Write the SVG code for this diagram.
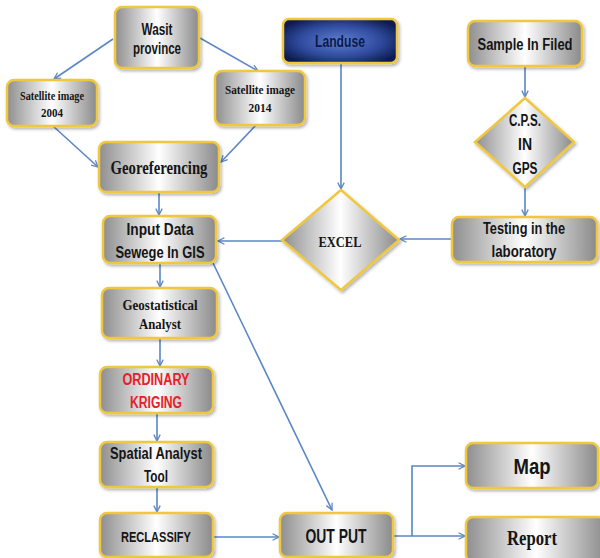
<svg xmlns="http://www.w3.org/2000/svg" width="600" height="558" viewBox="0 0 600 558">
<defs>
<linearGradient id="g" x1="0" y1="0" x2="1" y2="0">
<stop offset="0" stop-color="#8e8e8e"/>
<stop offset="0.5" stop-color="#ffffff"/>
<stop offset="1" stop-color="#8a8a8a"/>
</linearGradient>
<radialGradient id="b" cx="0.5" cy="0.5" r="0.6">
<stop offset="0" stop-color="#5f7fd0"/>
<stop offset="0.6" stop-color="#2f4a9c"/>
<stop offset="1" stop-color="#0c1a4e"/>
</radialGradient>
<filter id="sh" x="-10%" y="-10%" width="125%" height="130%">
<feDropShadow dx="1.5" dy="2" stdDeviation="1.5" flood-color="#000" flood-opacity="0.3"/>
</filter>
<marker id="ar" viewBox="0 0 10 10" refX="9" refY="5" markerWidth="8" markerHeight="8" orient="auto" markerUnits="userSpaceOnUse">
<path d="M1,1 L9,5 L1,9" fill="none" stroke="#5b86c5" stroke-width="1.6"/>
</marker>
</defs>
<style>
.box{fill:url(#g);stroke:#f0c840;stroke-width:2.5;filter:url(#sh)}
.blue{fill:url(#b);stroke:#f0c840;stroke-width:2.5;filter:url(#sh)}
.c{fill:none;stroke:#5b86c5;stroke-width:1.6;marker-end:url(#ar)}
.s{font-family:"Liberation Sans",Arial,sans-serif;font-weight:bold;fill:#151515;text-anchor:middle}
.t{font-family:"Liberation Serif","Times New Roman",serif;font-weight:bold;fill:#151515;text-anchor:middle}
</style>
<g id="connectors">
<path class="c" d="M113,39 L54,79"/>
<path class="c" d="M200,38 L258,71"/>
<path class="c" d="M53,126 L98,167"/>
<path class="c" d="M256,125 L221,162"/>
<path class="c" d="M159,192 L159,215"/>
<path class="c" d="M341,63 L341,189"/>
<path class="c" d="M525,66 L525,97"/>
<path class="c" d="M525,187 L525,216"/>
<path class="c" d="M452,239 L400,239"/>
<path class="c" d="M282,241 L218,241"/>
<path class="c" d="M160,263 L160,287"/>
<path class="c" d="M160,338 L160,366"/>
<path class="c" d="M157,413 L157,441"/>
<path class="c" d="M157,487 L157,512"/>
<path class="c" d="M213,263 L332,510"/>
<path class="c" d="M213,537 L279,537"/>
<path class="c" d="M393,536 L465,536"/>
<path class="c" d="M412,536 L412,466 L465,466"/>
</g>
<g id="wasit"><rect class="box" x="115" y="7" width="84" height="61" rx="7"/>
<text class="s" x="157" y="35" font-size="16" textLength="31" lengthAdjust="spacingAndGlyphs">Wasit</text>
<text class="s" x="157" y="54" font-size="16" textLength="48" lengthAdjust="spacingAndGlyphs">province</text></g>
<g id="sat2004"><rect class="box" x="7" y="80" width="90" height="46" rx="7"/>
<text class="t" x="52" y="100" font-size="12.5" textLength="64" lengthAdjust="spacingAndGlyphs">Satellite image</text>
<text class="t" x="52" y="117" font-size="12.5" textLength="22" lengthAdjust="spacingAndGlyphs">2004</text></g>
<g id="sat2014"><rect class="box" x="215" y="71" width="90" height="54" rx="7"/>
<text class="t" x="260" y="94" font-size="13" textLength="70" lengthAdjust="spacingAndGlyphs">Satellite image</text>
<text class="t" x="260" y="112" font-size="13" textLength="23" lengthAdjust="spacingAndGlyphs">2014</text></g>
<g id="georef"><rect class="box" x="99" y="142" width="120" height="50" rx="7"/>
<text class="t" x="159" y="174" font-size="19" textLength="97" lengthAdjust="spacingAndGlyphs">Georeferencing</text></g>
<g id="landuse"><rect class="blue" x="283" y="19" width="114" height="44" rx="6"/>
<text class="s" x="340" y="47" font-size="16" textLength="50" lengthAdjust="spacingAndGlyphs" style="fill:#0b1a4a">Landuse</text></g>
<g id="sample"><rect class="box" x="468" y="21" width="114" height="45" rx="7"/>
<text class="s" x="525" y="50" font-size="16" textLength="95" lengthAdjust="spacingAndGlyphs">Sample In Filed</text></g>
<g id="cps"><polygon class="box" points="525,98 574,142 525,187 475,142"/>
<text class="s" x="525" y="126" font-size="16" textLength="32" lengthAdjust="spacingAndGlyphs">C.P.S.</text>
<text class="s" x="525" y="150" font-size="16" textLength="14" lengthAdjust="spacingAndGlyphs">IN</text>
<text class="s" x="525" y="174" font-size="16" textLength="25" lengthAdjust="spacingAndGlyphs">GPS</text></g>
<g id="testing"><rect class="box" x="452" y="217" width="145" height="45" rx="7"/>
<text class="s" x="524" y="234" font-size="16" textLength="82" lengthAdjust="spacingAndGlyphs">Testing in the</text>
<text class="s" x="524" y="257" font-size="16" textLength="65" lengthAdjust="spacingAndGlyphs">laboratory</text></g>
<g id="excel"><polygon class="box" points="341,190 399,240 341,290 282,240"/>
<text class="t" x="340" y="247" font-size="15" textLength="43" lengthAdjust="spacingAndGlyphs">EXCEL</text></g>
<g id="input"><rect class="box" x="103" y="216" width="113" height="47" rx="7"/>
<text class="s" x="160" y="235" font-size="16" textLength="67" lengthAdjust="spacingAndGlyphs">Input Data</text>
<text class="s" x="160" y="258" font-size="16" textLength="89" lengthAdjust="spacingAndGlyphs">Sewege In GIS</text></g>
<g id="geostat"><rect class="box" x="102" y="288" width="115" height="50" rx="7"/>
<text class="t" x="160" y="310" font-size="15" textLength="75" lengthAdjust="spacingAndGlyphs">Geostatistical</text>
<text class="t" x="160" y="329" font-size="15" textLength="42" lengthAdjust="spacingAndGlyphs">Analyst</text></g>
<g id="kriging"><rect class="box" x="100" y="367" width="113" height="46" rx="7"/>
<text class="s" x="156" y="385" font-size="16" textLength="67" lengthAdjust="spacingAndGlyphs" style="fill:#e8202a">ORDINARY</text>
<text class="s" x="156" y="408" font-size="16" textLength="52" lengthAdjust="spacingAndGlyphs" style="fill:#e8202a">KRIGING</text></g>
<g id="spatial"><rect class="box" x="100" y="442" width="113" height="45" rx="7"/>
<text class="s" x="156" y="459" font-size="16" textLength="92" lengthAdjust="spacingAndGlyphs">Spatial Analyst</text>
<text class="s" x="156" y="482" font-size="16" textLength="24" lengthAdjust="spacingAndGlyphs">Tool</text></g>
<g id="reclassify"><rect class="box" x="100" y="513" width="113" height="44" rx="7"/>
<text class="s" x="156" y="542" font-size="15" textLength="70" lengthAdjust="spacingAndGlyphs">RECLASSIFY</text></g>
<g id="output"><rect class="box" x="280" y="513" width="113" height="44" rx="7"/>
<text class="s" x="336" y="543" font-size="20" textLength="61" lengthAdjust="spacingAndGlyphs">OUT PUT</text></g>
<g id="map"><rect class="box" x="466" y="443" width="132" height="45" rx="7"/>
<text class="s" x="532" y="474" font-size="22" textLength="37" lengthAdjust="spacingAndGlyphs">Map</text></g>
<g id="report"><rect class="box" x="466" y="517" width="140" height="45" rx="7"/>
<text class="t" x="532" y="545" font-size="22" textLength="50" lengthAdjust="spacingAndGlyphs">Report</text></g>
</svg>
